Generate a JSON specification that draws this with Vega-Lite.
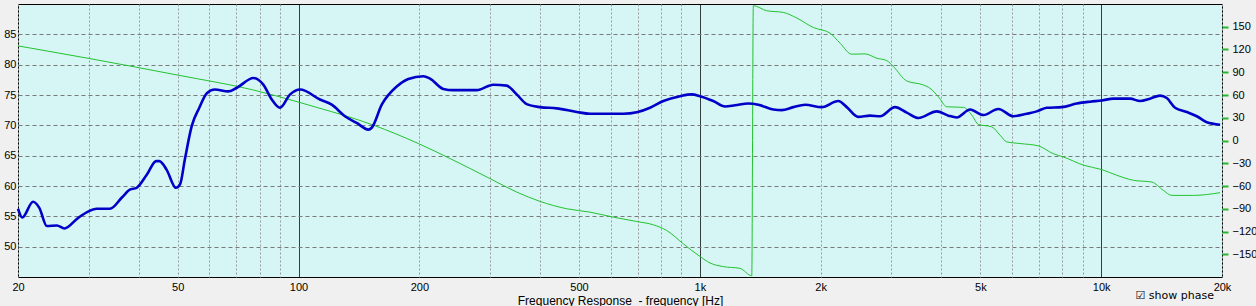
{
  "$schema": "https://vega.github.io/schema/vega-lite/v6.json",
  "width": 1204,
  "height": 273,
  "autosize": "none",
  "padding": {"left": 18, "top": 4, "right": 34, "bottom": 29},
  "background": "#F0F0F0",
  "config": {
    "view": {"fill": "#D6F5F5", "stroke": "#000000", "strokeWidth": 1},
    "font": "Liberation Sans",
    "axis": {"labelFont": "Liberation Sans", "titleFont": "Liberation Sans", "labelColor": "#000000", "titleColor": "#000000"}
  },
  "title": {"text": "☑ show phase", "orient": "bottom", "anchor": "end", "frame": "group", "font": "DejaVu Sans", "fontSize": 11, "fontWeight": "normal", "color": "#000000", "offset": -16, "dx": -8},
  "datasets": {
    "spl": [
      {"f": 20.0, "v": 56.25}, {"f": 20.5, "v": 54.8}, {"f": 21.8, "v": 57.4}, {"f": 22.6, "v": 56.4},
      {"f": 23.6, "v": 53.4}, {"f": 25.0, "v": 53.5}, {"f": 26.1, "v": 53.0}, {"f": 28.3, "v": 54.8},
      {"f": 31.4, "v": 56.25}, {"f": 33.9, "v": 56.25}, {"f": 36.3, "v": 58.1}, {"f": 38.0, "v": 59.4},
      {"f": 39.5, "v": 59.7}, {"f": 41.9, "v": 61.9}, {"f": 44.2, "v": 64.1}, {"f": 45.0, "v": 64.1},
      {"f": 46.9, "v": 62.7}, {"f": 49.5, "v": 59.7}, {"f": 50.7, "v": 60.3}, {"f": 52.1, "v": 64.4},
      {"f": 54.2, "v": 69.9}, {"f": 56.6, "v": 72.9}, {"f": 59.1, "v": 75.3}, {"f": 61.9, "v": 75.9},
      {"f": 66.8, "v": 75.6}, {"f": 70.2, "v": 76.2}, {"f": 77.2, "v": 77.8}, {"f": 81.7, "v": 76.7},
      {"f": 85.8, "v": 74.25}, {"f": 89.9, "v": 72.9}, {"f": 95.3, "v": 75.1}, {"f": 100.9, "v": 75.9},
      {"f": 113.1, "v": 74.25}, {"f": 121.0, "v": 73.4}, {"f": 130.5, "v": 71.5}, {"f": 139.6, "v": 70.4},
      {"f": 149.3, "v": 69.3}, {"f": 152.2, "v": 69.6}, {"f": 161.2, "v": 73.4}, {"f": 175.7, "v": 76.4},
      {"f": 187.8, "v": 77.65}, {"f": 204.6, "v": 78.1}, {"f": 212.6, "v": 77.7}, {"f": 229.5, "v": 76.0},
      {"f": 243.0, "v": 75.8}, {"f": 278.0, "v": 75.8}, {"f": 305.8, "v": 76.7}, {"f": 330.2, "v": 76.55},
      {"f": 349.7, "v": 75.1}, {"f": 370.3, "v": 73.5}, {"f": 399.8, "v": 73.0}, {"f": 440.0, "v": 72.8},
      {"f": 493.6, "v": 72.2}, {"f": 532.7, "v": 71.9}, {"f": 644.8, "v": 71.9}, {"f": 696.3, "v": 72.15},
      {"f": 751.5, "v": 72.9}, {"f": 811.0, "v": 74.0}, {"f": 892.5, "v": 74.8}, {"f": 954.6, "v": 75.1},
      {"f": 1001, "v": 74.8}, {"f": 1080, "v": 74.0}, {"f": 1156, "v": 73.1}, {"f": 1224, "v": 73.3},
      {"f": 1321, "v": 73.6}, {"f": 1399, "v": 73.4}, {"f": 1525, "v": 72.6}, {"f": 1600, "v": 72.5},
      {"f": 1710, "v": 73.0}, {"f": 1829, "v": 73.4}, {"f": 2012, "v": 73.0}, {"f": 2213, "v": 74.0},
      {"f": 2323, "v": 73.0}, {"f": 2482, "v": 71.4}, {"f": 2655, "v": 71.6}, {"f": 2812, "v": 71.5},
      {"f": 3064, "v": 73.0}, {"f": 3278, "v": 72.1}, {"f": 3504, "v": 71.2}, {"f": 3894, "v": 72.3},
      {"f": 4162, "v": 71.6}, {"f": 4367, "v": 71.3}, {"f": 4714, "v": 72.6}, {"f": 5087, "v": 71.7},
      {"f": 5544, "v": 72.7}, {"f": 6043, "v": 71.5}, {"f": 6526, "v": 71.9}, {"f": 6912, "v": 72.3},
      {"f": 7318, "v": 72.9}, {"f": 7977, "v": 73.0}, {"f": 8693, "v": 73.6}, {"f": 9384, "v": 73.9},
      {"f": 10037, "v": 74.1}, {"f": 10728, "v": 74.4}, {"f": 11803, "v": 74.4}, {"f": 12502, "v": 74.0},
      {"f": 13240, "v": 74.4}, {"f": 14018, "v": 74.9}, {"f": 14568, "v": 74.5}, {"f": 15280, "v": 72.9},
      {"f": 16344, "v": 72.2}, {"f": 17308, "v": 71.5}, {"f": 18330, "v": 70.5}, {"f": 19784, "v": 70.1}
    ],
    "phase": [
      {"f": 20.0, "p": 124.8}, {"f": 30.2, "p": 108.0}, {"f": 50.3, "p": 86.0}, {"f": 77.2, "p": 66.6},
      {"f": 100.5, "p": 50.3}, {"f": 113.1, "p": 42.4}, {"f": 129.3, "p": 33.5}, {"f": 153.6, "p": 20.3},
      {"f": 198.9, "p": -4.0}, {"f": 238.6, "p": -23.8}, {"f": 300.2, "p": -50.3}, {"f": 349.7, "p": -68.0},
      {"f": 399.8, "p": -80.3}, {"f": 465.9, "p": -90.0}, {"f": 532.7, "p": -94.5}, {"f": 608.8, "p": -101.1},
      {"f": 696.3, "p": -106.8}, {"f": 765.8, "p": -111.2}, {"f": 827.2, "p": -118.7}, {"f": 909.8, "p": -136.3},
      {"f": 1001, "p": -153.0}, {"f": 1060, "p": -161.5}, {"f": 1144, "p": -166.3}, {"f": 1259, "p": -168.6},
      {"f": 1347, "p": -178.3}, {"f": 1359, "p": 177.8}, {"f": 1468, "p": 171.1}, {"f": 1614, "p": 168.9},
      {"f": 1744, "p": 161.5}, {"f": 1918, "p": 149.0}, {"f": 2110, "p": 141.6}, {"f": 2235, "p": 128.4},
      {"f": 2391, "p": 113.8}, {"f": 2580, "p": 114.2}, {"f": 2760, "p": 108.5}, {"f": 2922, "p": 105.4},
      {"f": 3036, "p": 97.4}, {"f": 3278, "p": 78.5}, {"f": 3606, "p": 73.2}, {"f": 3747, "p": 68.8},
      {"f": 3930, "p": 57.7}, {"f": 4124, "p": 44.5}, {"f": 4536, "p": 43.7}, {"f": 4760, "p": 33.5},
      {"f": 4943, "p": 21.2}, {"f": 5338, "p": 18.0}, {"f": 5598, "p": 7.0}, {"f": 5817, "p": -1.8},
      {"f": 6281, "p": -4.0}, {"f": 6976, "p": -7.1}, {"f": 7602, "p": -17.5}, {"f": 8050, "p": -21.7},
      {"f": 9030, "p": -32.5}, {"f": 10037, "p": -38.4}, {"f": 10940, "p": -45.9}, {"f": 12032, "p": -52.5},
      {"f": 13372, "p": -54.8}, {"f": 14289, "p": -65.8}, {"f": 14996, "p": -72.4}, {"f": 16970, "p": -72.4},
      {"f": 19784, "p": -68.8}
    ]
  },
  "encoding": {
    "x": {
      "field": "f", "type": "quantitative",
      "scale": {"type": "log", "domain": [20, 20000], "nice": false},
      "axis": {
        "values": [20, 30, 40, 50, 60, 70, 80, 90, 100, 200, 300, 400, 500, 600, 700, 800, 900, 1000, 2000, 3000, 4000, 5000, 6000, 7000, 8000, 9000, 10000, 20000],
        "labelExpr": "indexof([20,50,100,200,500,1000,2000,5000,10000,20000], datum.value) >= 0 ? (datum.value >= 1000 ? (datum.value/1000) + 'k' : datum.value + '') : ''",
        "labelOverlap": false, "labelFlush": false, "labelBound": false,
        "labelFontSize": 11, "labelPadding": 4,
        "ticks": false, "domain": false,
        "grid": true,
        "gridColor": {"condition": {"test": "datum.value == 100 || datum.value == 1000 || datum.value == 10000", "value": "#000000"}, "value": "#9A9A9A"},
        "gridDash": {"condition": {"test": "datum.value == 100 || datum.value == 1000 || datum.value == 10000", "value": [1, 0]}, "value": [2, 2]},
        "gridWidth": 1, "gridOpacity": 1,
        "title": "Frequency Response \u00a0- frequency [Hz]",
        "titleFontSize": 12, "titleFontWeight": "normal", "titlePadding": 3
      }
    }
  },
  "layer": [
    {
      "data": {"name": "phase"},
      "mark": {"type": "line", "color": "#22C32E", "strokeWidth": 1, "interpolate": "monotone"},
      "encoding": {
        "y": {
          "field": "p", "type": "quantitative",
          "scale": {"domain": [-180, 180], "nice": false, "zero": false},
          "axis": {
            "orient": "right", "values": [-150, -120, -90, -60, -30, 0, 30, 60, 90, 120, 150],
            "grid": false, "domain": false, "ticks": true, "tickColor": "#22B82E", "tickSize": 6, "tickWidth": 2,
            "labelFontSize": 11, "labelPadding": 4, "title": null
          }
        }
      }
    },
    {
      "data": {"name": "spl"},
      "mark": {"type": "line", "color": "#0000C8", "strokeWidth": 2.6, "interpolate": "monotone"},
      "encoding": {
        "y": {
          "field": "v", "type": "quantitative",
          "scale": {"domain": [45, 90], "nice": false, "zero": false},
          "axis": {
            "orient": "left", "values": [50, 55, 60, 65, 70, 75, 80, 85],
            "grid": true, "gridColor": "#7A7A7A", "gridDash": [4, 3], "gridOpacity": 1,
            "domain": false, "ticks": false, "labelFontSize": 11, "labelPadding": 2, "title": null
          }
        }
      }
    }
  ],
  "resolve": {"scale": {"y": "independent"}}
}
